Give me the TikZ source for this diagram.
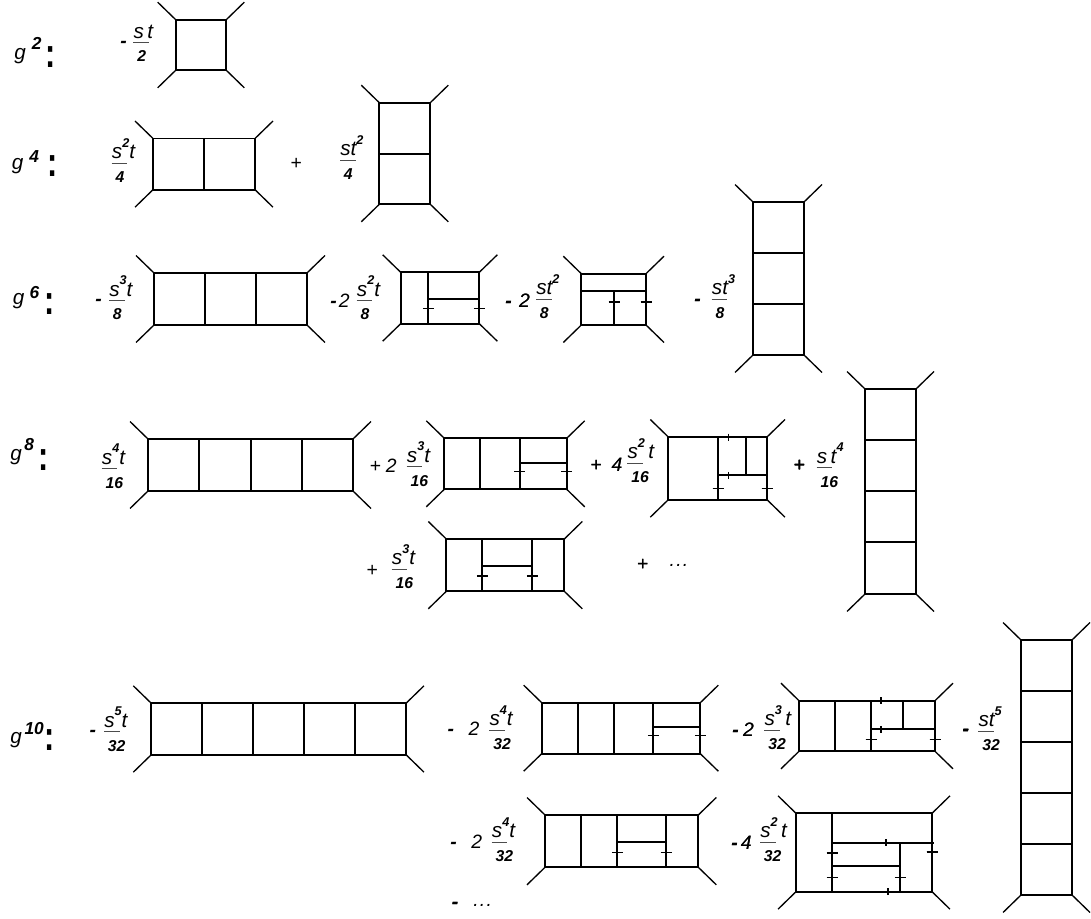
\documentclass[tikz,border=0pt]{standalone}
\usepackage{fontspec}
\setmainfont{Liberation Sans}
\usetikzlibrary{positioning}

\tikzset{
  loopline/.style={line width=1.25pt},
  legline/.style={line width=1pt},
  tickline/.style={line width=0.8pt},
  fracrule/.style={line width=0.6pt,black!70},
  numtext/.style={anchor=base west,inner sep=0pt,font=\fontsize{15.5}{15.5}\selectfont\itshape},
  dentext/.style={anchor=base west,inner sep=0pt,font=\fontsize{11.8}{11.8}\selectfont\bfseries\itshape},
  signtext/.style={anchor=base west,inner sep=0pt,font=\fontsize{14.5}{14.5}\selectfont\itshape},
  gtext/.style={anchor=base west,inner sep=0pt,font=\fontsize{15.5}{15.5}\selectfont\itshape},
  gexpo/.style={anchor=base west,inner sep=0pt,font=\fontsize{13}{13}\selectfont\bfseries\itshape},
  gcolon/.style={inner sep=0pt,font=\fontsize{23}{23}\selectfont\bfseries},
}
\newcommand{\expo}[1]{\raisebox{8.5pt}{\fontsize{9.5}{9.5}\selectfont\bfseries #1}}
\newcommand{\dash}{{\bfseries -}}
\newcommand{\tallcolon}{\scalebox{1}[1.35]{:}}
\newcommand{\wdots}{.\kern1pt.\kern1pt.}
% box with four legs: name, left, top, right, bottom
\newcommand{\legbox}[5]{
  \coordinate (#1nw) at (#2,#3);
  \coordinate (#1ne) at (#4,#3);
  \coordinate (#1sw) at (#2,#5);
  \coordinate (#1se) at (#4,#5);
  \draw[loopline] (#1nw) rectangle (#1se);
  \draw[legline] (#1nw) -- ++(-18,-17.5);
  \draw[legline] (#1ne) -- ++(18,-17.5);
  \draw[legline] (#1sw) -- ++(-18,17.5);
  \draw[legline] (#1se) -- ++(18,17.5);
}
% fraction: name, rule left, rule y, numerator, denominator
\newcommand{\fracterm}[5]{
  \begin{scope}[shift={(#2,#3)}]
    \node[numtext] (#1n) at (0,-4.5) {#4};
    \draw[fracrule] (0,0) -- (15.5,0);
    \node[dentext] (#1d) at (3.7,19.3) {#5};
  \end{scope}
}
\newcommand{\htick}[2]{\draw[tickline] (#1-5.5,#2) -- (#1+5.5,#2);}
\newcommand{\vtick}[2]{\draw[tickline] (#1,#2-3.5) -- (#1,#2+3.5);}

\begin{document}
\begin{tikzpicture}[x=0.75pt,y=-0.75pt]
  \useasboundingbox (0,0) rectangle (1091,919);

  % g^2
  \node[gtext] (g2) at (14,60) {g};
  \node[gexpo] (g2e) at (31.7,49.3) {2};
  \node[gcolon] (g2c) at (50.7,57.5) {\tallcolon};
  \node[signtext] (s2a) at (120,48) {\dash};
  \fracterm{f2a}{133.3}{42.7}{s\,t}{2}
  \legbox{b2a}{175.7}{19.7}{226.3}{70.3}

  % g^4
  \node[gtext] (g4) at (11.7,169.3) {g};
  \node[gexpo] (g4e) at (29,162.3) {4};
  \node[gcolon] (g4c) at (52.7,166) {\tallcolon};
  \fracterm{f4a}{111.7}{163.3}{s\expo{2}t}{4}
  \legbox{b4a}{153}{138.5}{255}{189.7}
  \draw[loopline] (203.7,138.5) -- (203.7,189.7);
  \node[signtext] (s4b) at (290,169.5) {+};
  \fracterm{f4b}{340}{160.3}{st\expo{2}}{4}
  \legbox{b4b}{379.3}{102.7}{430.3}{204.3}
  \draw[loopline] (379.3,153.7) -- (430.3,153.7);

  % g^6
  \node[gtext] (g6) at (12.7,305) {g};
  \node[gexpo] (g6e) at (29.3,298.3) {6};
  \node[gcolon] (g6c) at (50,303.7) {\tallcolon};
  \node[signtext] (s6a) at (95,305.7) {\dash};
  \fracterm{f6a}{109}{300.7}{s\expo{3}t}{8}
  \legbox{b6a}{154}{273}{307}{325}
  \foreach \x in {205,256} \draw[loopline] (\x,273) -- (\x,325);
  \node[signtext] (s6b) at (330,308) {\dash\hspace{1.7pt}2};
  \fracterm{f6b}{356.7}{300.7}{s\expo{2}t}{8}
  \legbox{b6b}{400.7}{272.3}{479.3}{323.7}
  \draw[loopline] (428.3,272.3) -- (428.3,323.7);
  \draw[loopline] (428.3,299) -- (479.3,299);
  \foreach \x in {428.3,479.3} \htick{\x}{308.3}
  \node[signtext] (s6c) at (505,307.7) {\dash\hspace{5.5pt}2};
  \fracterm{f6c}{536}{299.3}{st\expo{2}}{8}
  \legbox{b6c}{581.3}{273.7}{646}{325}
  \draw[loopline] (581.3,290.7) -- (646,290.7);
  \draw[loopline] (614,290.7) -- (614,325);
  \foreach \x in {614,646} \htick{\x}{302}
  \node[signtext] (s6d) at (694,306) {\dash};
  \fracterm{f6d}{711.7}{299.5}{st\expo{3}}{8}
  \legbox{b6d}{753}{202}{804}{355}
  \foreach \y in {253,304} \draw[loopline] (753,\y) -- (804,\y);

  % g^8
  \node[gtext] (g8) at (10,460) {g};
  \node[gexpo] (g8e) at (24,450) {8};
  \node[gcolon] (g8c) at (43.3,460) {\tallcolon};
  \fracterm{f8a}{101.7}{468.7}{s\expo{4}t}{16}
  \legbox{b8a}{148}{439}{353}{491}
  \foreach \x in {199,251,302} \draw[loopline] (\x,439) -- (\x,491);
  \node[signtext] (s8b) at (369.3,472.3) {+\hspace{3.7pt}2};
  \fracterm{f8b}{406.7}{466.7}{s\expo{3}t}{16}
  \legbox{b8b}{444.3}{438.3}{566.7}{489.3}
  \foreach \x in {480,519.7} \draw[loopline] (\x,438.3) -- (\x,489.3);
  \draw[loopline] (519.7,462.7) -- (566.7,462.7);
  \foreach \x in {519.7,566.7} \htick{\x}{471.3}
  \node[signtext] (s8c) at (590,471) {+\hspace{7.5pt}4};
  \fracterm{f8c}{627.3}{463.3}{s\expo{2}\,t}{16}
  \legbox{b8c}{668.3}{437}{767}{499.7}
  \draw[loopline] (718,437) -- (718,499.7);
  \draw[loopline] (746,437) -- (746,475.3);
  \draw[loopline] (718,475.3) -- (767,475.3);
  \foreach \y in {437,475.3} \vtick{728.7}{\y}
  \foreach \x in {718,767} \htick{\x}{488.3}
  \node[signtext] (s8d) at (793.3,471) {+};
  \fracterm{f8d}{816.7}{467.7}{s\,t\expo{4}}{16}
  \legbox{b8d}{865}{389}{916}{594}
  \foreach \y in {440,491,542} \draw[loopline] (865,\y) -- (916,\y);
  \node[signtext] (s8e) at (366,576) {+};
  \fracterm{f8e}{391.7}{569}{s\expo{3}t}{16}
  \legbox{b8e}{446.3}{539}{564.3}{591.3}
  \foreach \x in {482.3,532.3} \draw[loopline] (\x,539) -- (\x,591.3);
  \draw[loopline] (482.3,565.7) -- (532.3,565.7);
  \foreach \x in {482.3,532.3} \htick{\x}{576}
  \node[signtext] (s8f) at (636.7,570) {+};
  \node[signtext] (d8f) at (669.3,566.7) {\wdots};

  % g^10
  \node[gtext] (g10) at (10,743.3) {g};
  \node[gexpo] (g10e) at (24.3,734) {10};
  \node[gcolon] (g10c) at (49.3,740) {\tallcolon};
  \node[signtext] (s10a) at (89.3,736.7) {\dash};
  \fracterm{f10a}{104}{731.7}{s\expo{5}t}{32}
  \legbox{b10a}{151.3}{703.3}{406}{754.7}
  \foreach \x in {202,253,304,355} \draw[loopline] (\x,703.3) -- (\x,754.7);
  \node[signtext] (s10b) at (447.3,735.7) {\dash\hspace{11pt}2};
  \fracterm{f10b}{489.3}{730}{s\expo{4}t}{32}
  \legbox{b10b}{541.7}{702.7}{700.3}{753.7}
  \foreach \x in {577.7,614,653.3} \draw[loopline] (\x,702.7) -- (\x,753.7);
  \draw[loopline] (653.3,727) -- (700.3,727);
  \foreach \x in {653.3,700.3} \htick{\x}{735.3}
  \node[signtext] (s10c) at (732,736) {\dash\hspace{3.3pt}2};
  \fracterm{f10c}{764.3}{730}{s\expo{3}\,t}{32}
  \legbox{b10c}{799}{700.7}{935}{751.3}
  \foreach \x in {835,871} \draw[loopline] (\x,700.7) -- (\x,751.3);
  \draw[loopline] (903,700.7) -- (903,729.3);
  \draw[loopline] (871,729.3) -- (935,729.3);
  \foreach \y in {700.7,729.3} \vtick{881}{\y}
  \foreach \x in {871,935} \htick{\x}{739.3}
  \node[signtext] (s10d) at (962.3,735) {\dash};
  \fracterm{f10d}{978.3}{731}{st\expo{5}}{32}
  \legbox{b10d}{1021}{640}{1072}{895}
  \foreach \y in {690.7,742,793,844} \draw[loopline] (1021,\y) -- (1072,\y);
  \node[signtext] (s10e) at (450,848) {\dash\hspace{11pt}2};
  \fracterm{f10e}{491.7}{842.3}{s\expo{4}t}{32}
  \legbox{b10e}{545}{815}{698.3}{867.3}
  \foreach \x in {581,617.3,666} \draw[loopline] (\x,815) -- (\x,867.3);
  \draw[loopline] (617.3,841.7) -- (666,841.7);
  \foreach \x in {617.3,666} \htick{\x}{852.3}
  \node[signtext] (s10f) at (731,849) {\dash\hspace{2.3pt}4};
  \fracterm{f10f}{760}{842.3}{s\expo{2}\,t}{32}
  \legbox{b10f}{796}{813.3}{932}{891.7}
  \draw[loopline] (832,813.3) -- (832,891.7);
  \draw[loopline] (832,842.7) -- (933.5,842.7);
  \draw[loopline] (900.3,842.7) -- (900.3,891.7);
  \draw[tickline] (832,866) -- (900.3,866);
  \foreach \y in {853,877.3} \htick{832}{\y}
  \htick{900.3}{877.3}
  \htick{932}{852}
  \vtick{886}{842.7}
  \vtick{888}{891.7}
  \node[signtext] (s10g) at (451.7,908) {\dash};
  \node[signtext] (d10g) at (473,906) {\wdots};
\end{tikzpicture}
\end{document}
